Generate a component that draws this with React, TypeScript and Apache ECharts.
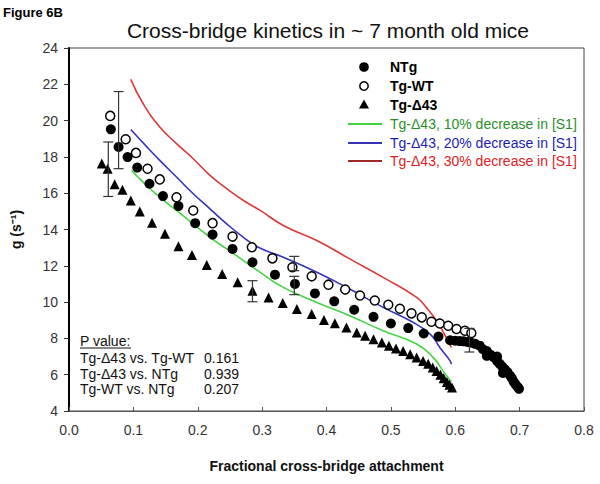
import React, { useEffect, useRef } from "react";
import * as echarts from "echarts";

// ---- Data ----
const ntg: number[][] = [
  [0.065, 19.52], [0.077, 18.55], [0.091, 17.99], [0.106, 17.41], [0.125, 16.52],
  [0.146, 15.84], [0.170, 15.29], [0.196, 14.35], [0.223, 13.72], [0.254, 12.93],
  [0.285, 12.19], [0.320, 11.51], [0.351, 11.0], [0.382, 10.48], [0.412, 10.04],
  [0.443, 9.58], [0.473, 9.19], [0.500, 8.82], [0.527, 8.57], [0.551, 8.27],
  [0.574, 8.1], [0.592, 7.9], [0.600, 7.87], [0.607, 7.85], [0.613, 7.84],
  [0.619, 7.8], [0.625, 7.76], [0.631, 7.7], [0.638, 7.6], [0.643, 7.4],
  [0.649, 7.04], [0.649, 7.3], [0.655, 7.1], [0.660, 6.95], [0.665, 7.0],
  [0.665, 6.75], [0.669, 6.6], [0.674, 6.1], [0.673, 6.45], [0.677, 6.3],
  [0.681, 6.15], [0.685, 5.95], [0.688, 5.8], [0.691, 5.6], [0.694, 5.45],
  [0.697, 5.32], [0.699, 5.22]
];
const tgWT: number[][] = [
  [0.064, 20.26], [0.088, 18.97], [0.104, 18.22], [0.122, 17.35], [0.141, 16.76],
  [0.167, 15.78], [0.193, 15.05], [0.223, 14.35], [0.254, 13.61], [0.284, 13.02],
  [0.316, 12.41], [0.347, 11.92], [0.377, 11.42], [0.403, 10.96], [0.429, 10.69],
  [0.452, 10.36], [0.475, 10.09], [0.496, 9.85], [0.514, 9.63], [0.532, 9.38],
  [0.548, 9.16], [0.563, 8.92], [0.576, 8.82], [0.589, 8.7], [0.602, 8.52],
  [0.615, 8.42], [0.625, 8.3]
];
const tgD43: number[][] = [
  [0.051, 17.63], [0.060, 17.35], [0.071, 16.49], [0.083, 16.19], [0.096, 15.6],
  [0.110, 14.99], [0.129, 14.37], [0.149, 13.76], [0.170, 13.08], [0.191, 12.6],
  [0.214, 12.05], [0.238, 11.55], [0.262, 11.09], [0.285, 10.63], [0.310, 10.26],
  [0.332, 9.95], [0.354, 9.62], [0.377, 9.34], [0.396, 9.01], [0.413, 8.83],
  [0.431, 8.6], [0.447, 8.33], [0.460, 8.14], [0.473, 7.96], [0.486, 7.77],
  [0.497, 7.6], [0.508, 7.45], [0.519, 7.3], [0.530, 7.13], [0.540, 6.95],
  [0.550, 6.76], [0.558, 6.6], [0.565, 6.4], [0.571, 6.2], [0.577, 6.0],
  [0.582, 5.8], [0.587, 5.6], [0.591, 5.45], [0.595, 5.3]
];
const line10: number[][] = [
  [0.097, 17.26], [0.115, 16.61], [0.141, 15.78], [0.167, 15.05], [0.193, 14.31],
  [0.219, 13.57], [0.245, 12.93], [0.271, 12.29], [0.297, 11.64], [0.333, 10.81],
  [0.385, 9.98], [0.436, 9.25], [0.488, 8.42], [0.540, 7.69], [0.566, 6.94],
  [0.581, 6.21], [0.594, 5.6]
];
const line20: number[][] = [
  [0.096, 19.51], [0.121, 18.55], [0.141, 17.81], [0.167, 16.89], [0.193, 15.97],
  [0.219, 15.14], [0.245, 14.31], [0.271, 13.57], [0.294, 13.02], [0.333, 12.47],
  [0.385, 11.64], [0.436, 10.72], [0.488, 9.71], [0.530, 8.97], [0.561, 8.24],
  [0.576, 7.5], [0.592, 6.76], [0.594, 6.58]
];
const line30: number[][] = [
  [0.096, 22.27], [0.115, 20.94], [0.141, 19.65], [0.167, 18.73], [0.193, 17.9],
  [0.219, 16.98], [0.245, 16.25], [0.271, 15.6], [0.297, 15.05], [0.333, 14.22],
  [0.385, 13.39], [0.436, 12.38], [0.488, 11.36], [0.540, 10.26], [0.555, 9.71],
  [0.571, 8.97], [0.586, 8.05], [0.594, 7.5]
];
// [x, low, high]
const errorBars: number[][] = [
  [0.077, 17.35, 21.6], [0.061, 15.82, 18.82], [0.285, 10.02, 11.18],
  [0.350, 11.73, 12.52], [0.350, 10.41, 11.42], [0.622, 7.25, 8.55]
];
const xMin = 0, xMax = 0.8, xStep = 0.1;
const yMin = 4, yMax = 24, yStep = 2;
const seriesNames = [
  "NTg", "Tg-WT", "Tg-Δ43",
  "Tg-Δ43, 10% decrease in [S1]", "Tg-Δ43, 20% decrease in [S1]", "Tg-Δ43, 30% decrease in [S1]"
];
const pLabels = ["Tg-Δ43 vs. Tg-WT", "Tg-Δ43 vs. NTg", "Tg-WT vs. NTg"];
const pValues = ["0.161", "0.939", "0.207"];

const FONT = "'Liberation Sans', Arial, sans-serif";
const GREEN = "#44d444";
const BLUE = "#3434b8";
const RED = "#d83a3a";

export default function App() {
  const ref = useRef<HTMLDivElement>(null);
  useEffect(() => {
    if (!ref.current) return;
    const chart = echarts.init(ref.current, undefined, { renderer: "svg" });
    const graphics: any[] = [
      { type: "text", x: 3, y: 6, style: { text: "Figure 6B", font: `bold 13px ${FONT}`, fill: "#000" } },
      { type: "text", x: 328, y: 30, style: { text: "Cross-bridge kinetics in ~ 7 month old mice", font: `21px ${FONT}`, fill: "#111", textAlign: "center", textVerticalAlign: "middle" } },
      { type: "text", x: 80, y: 341, style: { text: "P value:", font: `14px ${FONT}`, fill: "#111", textVerticalAlign: "middle" } },
      { type: "line", shape: { x1: 80, y1: 348, x2: 131, y2: 348 }, style: { stroke: "#111", lineWidth: 1 } },
    ];
    pLabels.forEach((t, i) => {
      graphics.push({ type: "text", x: 80, y: 358 + i * 15.5, style: { text: t, font: `14px ${FONT}`, fill: "#111", textVerticalAlign: "middle" } });
      graphics.push({ type: "text", x: 239, y: 358 + i * 15.5, style: { text: pValues[i], font: `14px ${FONT}`, fill: "#111", textAlign: "right", textVerticalAlign: "middle" } });
    });
    // legend (drawn with graphic elements for exact symbol shapes)
    const legY = [67, 86, 104.5, 124, 143, 161];
    const legText = ["#000", "#000", "#000", "#2a8f2a", "#1c1cb0", "#e02020"];
    const legLine = [GREEN, BLUE, "#a02828"];
    graphics.push({ type: "circle", shape: { cx: 364, cy: legY[0], r: 4.8 }, style: { fill: "#000" } });
    graphics.push({ type: "circle", shape: { cx: 364, cy: legY[1], r: 4.2 }, style: { fill: "#fff", stroke: "#000", lineWidth: 1.5 } });
    graphics.push({ type: "polygon", shape: { points: [[364, legY[2] - 5], [369, legY[2] + 4], [359, legY[2] + 4]] }, style: { fill: "#000" } });
    for (let i = 0; i < 3; i++) {
      graphics.push({ type: "line", shape: { x1: 348, y1: legY[3 + i], x2: 382, y2: legY[3 + i] }, style: { stroke: legLine[i], lineWidth: 1.8 } });
    }
    seriesNames.forEach((n, i) => {
      graphics.push({ type: "text", x: 390, y: legY[i], style: { text: n, font: `${i < 3 ? "bold " : ""}14px ${FONT}`, fill: legText[i], textVerticalAlign: "middle" } });
    });

    const option: any = {
      animation: false,
      backgroundColor: "#fff",
      grid: { left: 69, right: 16, top: 48, bottom: 73, show: true, borderColor: "#444", borderWidth: 1 },
      legend: { show: false },
      xAxis: {
        type: "value", min: xMin, max: xMax, interval: xStep,
        name: "Fractional cross-bridge attachment", nameLocation: "middle", nameGap: 48,
        nameTextStyle: { fontFamily: FONT, fontSize: 14, fontWeight: "bold", color: "#111" },
        axisLine: { show: true, lineStyle: { color: "#555", width: 1 } },
        axisTick: { show: true, inside: true, length: 4, lineStyle: { color: "#555" } },
        axisLabel: { fontFamily: FONT, fontSize: 14, color: "#333", margin: 12, formatter: (v: number) => v.toFixed(1) },
        splitLine: { show: false },
      },
      yAxis: {
        type: "value", min: yMin, max: yMax, interval: yStep,
        name: "g (s⁻¹)", nameLocation: "middle", nameGap: 46, nameRotate: 90,
        nameTextStyle: { fontFamily: FONT, fontSize: 14, fontWeight: "bold", color: "#111" },
        axisLine: { show: true, lineStyle: { color: "#000", width: 2 } },
        axisTick: { show: true, inside: false, length: 5, lineStyle: { color: "#333" } },
        axisLabel: { fontFamily: FONT, fontSize: 14, color: "#333", margin: 11 },
        splitLine: { show: false },
      },
      graphic: graphics,
      series: [
        {
          name: seriesNames[3], type: "line", data: line10, symbol: "none", smooth: true,
          lineStyle: { color: GREEN, width: 1.6 }, itemStyle: { color: GREEN }, z: 2,
        },
        {
          name: seriesNames[4], type: "line", data: line20, symbol: "none", smooth: true,
          lineStyle: { color: BLUE, width: 1.6 }, itemStyle: { color: BLUE }, z: 2,
        },
        {
          name: seriesNames[5], type: "line", data: line30, symbol: "none", smooth: true,
          lineStyle: { color: RED, width: 1.6 }, itemStyle: { color: RED }, z: 2,
        },
        {
          name: seriesNames[2], type: "scatter", data: tgD43, symbol: "triangle", symbolSize: 10,
          itemStyle: { color: "#000", opacity: 1 }, z: 3,
        },
        {
          name: seriesNames[1], type: "scatter", data: tgWT, symbol: "circle", symbolSize: 9,
          itemStyle: { color: "#fff", borderColor: "#000", borderWidth: 1.5, opacity: 1 }, z: 3,
        },
        {
          name: seriesNames[0], type: "scatter", data: ntg, symbol: "circle", symbolSize: 10,
          itemStyle: { color: "#000", opacity: 1 }, z: 4,
        },
        {
          name: "errorbars", type: "custom", data: errorBars, z: 5,
          renderItem: (params: any, api: any) => {
            const x = api.value(0);
            const lo = api.coord([x, api.value(1)]);
            const hi = api.coord([x, api.value(2)]);
            const w = 5;
            const st = { stroke: "#333", lineWidth: 1.2 };
            return {
              type: "group",
              children: [
                { type: "line", shape: { x1: lo[0], y1: lo[1], x2: hi[0], y2: hi[1] }, style: st },
                { type: "line", shape: { x1: lo[0] - w, y1: lo[1], x2: lo[0] + w, y2: lo[1] }, style: st },
                { type: "line", shape: { x1: hi[0] - w, y1: hi[1], x2: hi[0] + w, y2: hi[1] }, style: st },
              ],
            };
          },
        },
      ],
    };
    chart.setOption(option);
    return () => chart.dispose();
  }, []);
  return (
    <div
      ref={ref}
      style={{ position: "fixed", left: 0, top: 0, width: 600, height: 484, background: "#fff" }}
    />
  );
}
